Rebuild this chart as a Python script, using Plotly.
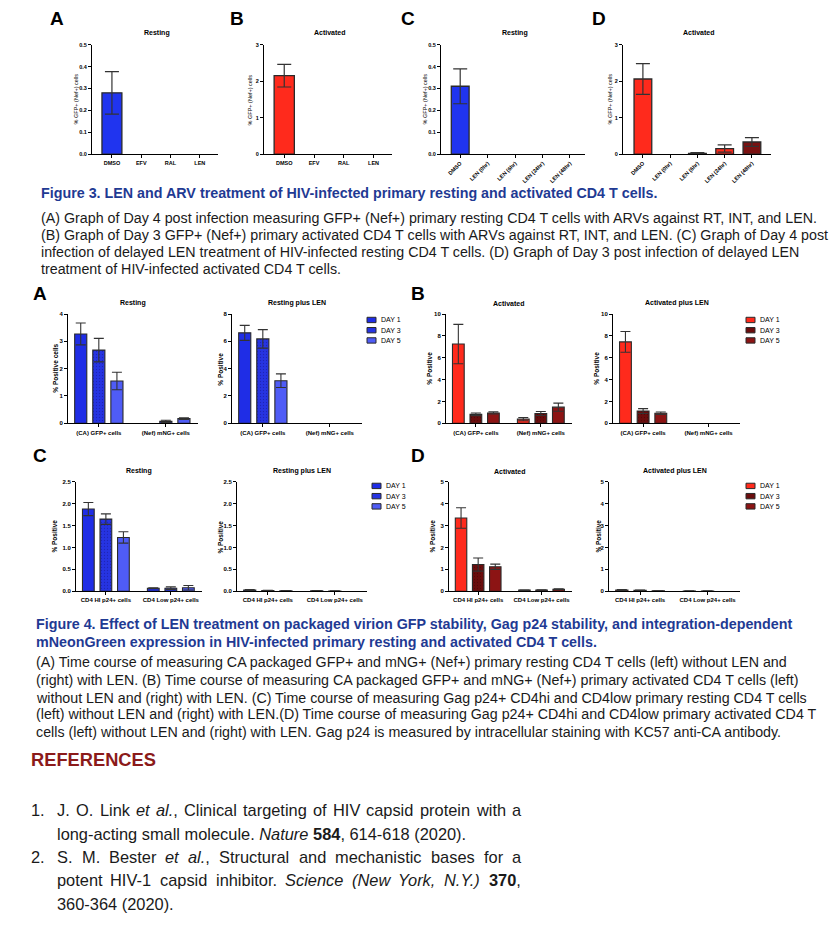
import re
import plotly.graph_objects as go

W, H = 838, 944

# ---------------------------------------------------------------- data
fig3_arv_cats = ["DMSO", "EFV", "RAL", "LEN"]
fig3a_resting = [0.28, 0, 0, 0]
fig3a_resting_err = [0.097, 0, 0, 0]
fig3b_activated = [2.15, 0, 0, 0]
fig3b_activated_err = [0.31, 0, 0, 0]

fig3_delay_cats = ["DMSO", "LEN (0hr)", "LEN (6hr)", "LEN (24hr)", "LEN (48hr)"]
fig3c_resting = [0.31, 0, 0, 0, 0]
fig3c_resting_err = [0.08, 0, 0, 0, 0]
fig3d_activated = [2.06, 0, 0.02, 0.15, 0.33]
fig3d_activated_err = [0.42, 0, 0.02, 0.10, 0.12]

days = ["DAY 1", "DAY 3", "DAY 5"]
fig4ab_cats = ["(CA) GFP+ cells", "(Nef) mNG+ cells"]
fig4cd_cats = ["CD4 HI p24+ cells", "CD4 Low p24+ cells"]

# rows = DAY 1, DAY 3, DAY 5 ; columns = categories
fig4a_resting = [[3.27, 0], [2.68, 0.07], [1.55, 0.17]]
fig4a_resting_err = [[0.40, 0], [0.43, 0.04], [0.32, 0.03]]
fig4a_resting_len = [[6.62, 0], [6.18, 0], [3.12, 0]]
fig4a_resting_len_err = [[0.55, 0], [0.68, 0], [0.50, 0]]
fig4b_activated = [[7.25, 0.38], [0.82, 0.90], [0.95, 1.48]]
fig4b_activated_err = [[1.80, 0.15], [0.12, 0.18], [0.10, 0.37]]
fig4b_activated_len = [[7.45, 0], [1.12, 0], [0.92, 0]]
fig4b_activated_len_err = [[0.95, 0], [0.22, 0], [0.12, 0]]
fig4c_resting = [[1.88, 0.07], [1.65, 0.07], [1.23, 0.08]]
fig4c_resting_err = [[0.15, 0.01], [0.12, 0.03], [0.13, 0.05]]
fig4c_resting_len = [[0.03, 0.01], [0.015, 0.005], [0.01, 0]]
fig4c_resting_len_err = [[0.01, 0.005], [0.005, 0.003], [0.003, 0]]
fig4d_activated = [[3.35, 0.05], [1.22, 0.06], [1.12, 0.09]]
fig4d_activated_err = [[0.47, 0.01], [0.30, 0.01], [0.12, 0.02]]
fig4d_activated_len = [[0.06, 0.01], [0.04, 0.01], [0.02, 0]]
fig4d_activated_len_err = [[0.02, 0.005], [0.01, 0.005], [0.005, 0]]

fig3_title = "Figure 3. LEN and ARV treatment of HIV-infected primary resting and activated CD4 T cells."
fig3_caption = [
    "(A) Graph of Day 4 post infection measuring GFP+ (Nef+) primary resting CD4 T cells with ARVs against RT, INT, and LEN.",
    "(B) Graph of Day 3 GFP+ (Nef+) primary activated CD4 T cells with ARVs against RT, INT, and LEN. (C) Graph of Day 4 post",
    "infection of delayed LEN treatment of HIV-infected resting CD4 T cells. (D) Graph of Day 3 post infection of delayed LEN",
    "treatment of HIV-infected activated CD4 T cells.",
]
fig4_title = [
    "Figure 4. Effect of LEN treatment on packaged virion GFP stability, Gag p24 stability, and integration-dependent",
    "mNeonGreen expression in HIV-infected primary resting and activated CD4 T cells.",
]
fig4_caption = [
    "(A) Time course of measuring CA packaged GFP+ and mNG+ (Nef+) primary resting CD4 T cells (left) without LEN and",
    "(right) with LEN. (B) Time course of measuring CA packaged GFP+ and mNG+ (Nef+) primary activated CD4 T cells (left)",
    "without LEN and (right) with LEN. (C) Time course of measuring Gag p24+ CD4hi and CD4low primary resting CD4 T cells",
    "(left) without LEN and (right) with LEN.(D) Time course of measuring Gag p24+ CD4hi and CD4low primary activated CD4 T",
    "cells (left) without LEN and (right) with LEN. Gag p24 is measured by intracellular staining with KC57 anti-CA antibody.",
]
references_head = "REFERENCES"
references = [
    ("1.", "J. O. Link <i>et al.</i>, Clinical targeting of HIV capsid protein with a", True),
    ("", "long-acting small molecule. <i>Nature</i> <b>584</b>, 614-618 (2020).", False),
    ("2.", "S. M. Bester <i>et al.</i>, Structural and mechanistic bases for a", True),
    ("", "potent HIV-1 capsid inhibitor. <i>Science (New York, N.Y.)</i> <b>370</b>,", True),
    ("", "360-364 (2020).", False),
]

# ---------------------------------------------------------------- style
FONT = "Liberation Sans, Arial, sans-serif"
BLUE = "#2034ef"
RED = "#ff2a1c"
DARKRED = "#7a1111"
blue_days = ["#1f2de6", "#2634e2", "#4f5cf6"]
red_days = ["#ff2a1c", "#6a0d0d", "#8c1414"]
OUTLINE = "#2a2a2a"
ERRC = "#333333"
CAPTION_BLUE = "#1f3a93"
TEXT = "#1a1a1a"


def fx(px):
    return px / W


def fy(py):
    return 1 - py / H


def shown(seq):
    # values of 0 are not drawn (GraphPad draws nothing for them)
    return [v if v else None for v in seq]


fig = go.Figure()
annotations = []
shapes = []


def ann(text, x, y, size, color="black", bold=False, family=FONT, xanchor="center",
        yanchor="middle", angle=0):
    annotations.append(dict(
        text=text, x=fx(x), y=fy(y), xref="paper", yref="paper", showarrow=False,
        xanchor=xanchor, yanchor=yanchor, textangle=angle, borderpad=0,
        font=dict(family=family, size=size, color=color, weight="bold" if bold else "normal"),
    ))


def axis_pair(n, x0, x1, yt, yb, xrange, ymax, ytickvals, yfmt, tickangle, xtsize, ytsize):
    sx = "" if n == 1 else str(n)
    fig.layout["xaxis" + sx] = dict(
        domain=[fx(x0), fx(x1)], anchor="y" + sx, range=xrange, type="category",
        showline=True, linecolor="black", linewidth=1, ticks="outside", ticklen=3,
        tickwidth=1, tickcolor="black", showgrid=False, zeroline=False,
        tickangle=tickangle, fixedrange=True,
        tickfont=dict(family=FONT, size=xtsize, color="black", weight="bold"),
    )
    fig.layout["yaxis" + sx] = dict(
        domain=[fy(yb), fy(yt)], anchor="x" + sx, range=[0, ymax],
        showline=True, linecolor="black", linewidth=1, ticks="outside", ticklen=3,
        tickwidth=1, tickcolor="black", showgrid=False, zeroline=False,
        tickvals=ytickvals, tickformat=yfmt, fixedrange=True,
        tickfont=dict(family=FONT, size=ytsize, color="black", weight="bold"),
    )
    return "x" + sx, "y" + sx


def fig3_panel(n, geom, cats, vals, errs, colors, bw, xrange, ymax, ytv, yfmt, angle,
               title, letter, letter_x, ytitle_x):
    x0, x1 = geom
    xa, ya = axis_pair(n, x0, x1, 42, 152, xrange, ymax, ytv, yfmt, angle, 5.5, 5.5)
    fig.add_trace(go.Bar(
        x=cats, y=shown(vals), width=bw, xaxis=xa, yaxis=ya, showlegend=False,
        marker=dict(color=colors, line=dict(color=OUTLINE, width=1.3)),
        error_y=dict(type="data", array=errs, visible=True, color=ERRC, thickness=1.2, width=7),
    ))
    ann(title, (x0 + x1) / 2 + 2, 30, 7, bold=True)
    ann(letter, letter_x, 16, 19, bold=True)
    ann("% GFP+ (Nef+) cells", ytitle_x, 97, 5.5, angle=-90)


fig3_panel(1, (92, 218), fig3_arv_cats, fig3a_resting, fig3a_resting_err, BLUE, 0.68,
           [-0.68, 3.62], 0.5, [0, 0.1, 0.2, 0.3, 0.4, 0.5], ".1f", 0, "Resting", "A", 57, 76)
fig3_panel(2, (264, 392), fig3_arv_cats, fig3b_activated, fig3b_activated_err, RED, 0.68,
           [-0.68, 3.62], 3, [0, 1, 2, 3], "d", 0, "Activated", "B", 237, 250)
fig3_panel(3, (441, 585), fig3_delay_cats, fig3c_resting, fig3c_resting_err, BLUE, 0.65,
           [-0.7, 4.55], 0.5, [0, 0.1, 0.2, 0.3, 0.4, 0.5], ".1f", -45, "Resting", "C", 408, 425)
fig3_panel(4, (623, 771), fig3_delay_cats, fig3d_activated, fig3d_activated_err,
           [RED, RED, RED, RED, DARKRED], 0.65,
           [-0.73, 4.7], 3, [0, 1, 2, 3], "d", -45, "Activated", "D", 599, 610)


def fig4_panel(n, geom, yt, yb, cats, vals, errs, palette, ymax, ytv, yfmt, title, ytitle,
               ytitle_x):
    x0, x1 = geom
    xa, ya = axis_pair(n, x0, x1, yt, yb, [-0.46, 1.48], ymax, ytv, yfmt, 0, 6, 6)
    for i, day in enumerate(days):
        pattern = None
        if i == 1:
            fg = "#3a0505" if palette is red_days else "#14148a"
            pattern = dict(shape=".", size=3, solidity=0.15, fgcolor=fg)
        fig.add_trace(go.Bar(
            x=cats, y=shown(vals[i]), name=day, xaxis=xa, yaxis=ya, showlegend=False,
            marker=dict(color=palette[i], line=dict(color=OUTLINE, width=1.1), pattern=pattern),
            error_y=dict(type="data", array=errs[i], visible=True, color=ERRC, thickness=1.1, width=5),
        ))
    ann(title, (x0 + x1) / 2, yt - 11, 7, bold=True)
    ann(ytitle, ytitle_x, (yt + yb) / 2, 6.5, bold=True, angle=-90)


def legend(x, y0, palette):
    for i, day in enumerate(days):
        yc = y0 + i * 10.3
        shapes.append(dict(type="rect", xref="paper", yref="paper",
                           x0=fx(x), x1=fx(x + 9), y0=fy(yc + 2.7), y1=fy(yc - 2.7),
                           fillcolor=palette[i], line=dict(color=OUTLINE, width=1)))
        ann(day, x + 13, yc, 7, xanchor="left")


fig4_panel(5, (68, 198), 313, 423, fig4ab_cats, fig4a_resting, fig4a_resting_err, blue_days,
           4, [0, 1, 2, 3, 4], "d", "Resting", "% Positive cells", 56)
fig4_panel(6, (232, 362), 313, 423, fig4ab_cats, fig4a_resting_len, fig4a_resting_len_err,
           blue_days, 8, [0, 2, 4, 6, 8], "d", "Resting plus LEN", "% Positive", 221)
fig4_panel(7, (446, 572), 313, 423, fig4ab_cats, fig4b_activated, fig4b_activated_err, red_days,
           10, [0, 2, 4, 6, 8, 10], "d", "Activated", "% Positive", 430)
fig4_panel(8, (613, 740), 313, 423, fig4ab_cats, fig4b_activated_len, fig4b_activated_len_err,
           red_days, 10, [0, 2, 4, 6, 8, 10], "d", "Activated plus LEN", "% Positive", 597)
fig4_panel(9, (76, 202), 482, 592, fig4cd_cats, fig4c_resting, fig4c_resting_err, blue_days,
           2.5, [0, 0.5, 1, 1.5, 2, 2.5], ".1f", "Resting", "% Positive", 55)
fig4_panel(10, (237, 367), 482, 592, fig4cd_cats, fig4c_resting_len, fig4c_resting_len_err,
           blue_days, 2.5, [0, 0.5, 1, 1.5, 2, 2.5], ".1f", "Resting plus LEN", "% Positive", 221)
fig4_panel(11, (449, 572), 482, 592, fig4cd_cats, fig4d_activated, fig4d_activated_err, red_days,
           5, [0, 1, 2, 3, 4, 5], "d", "Activated", "% Positive", 433)
fig4_panel(12, (609, 740), 482, 592, fig4cd_cats, fig4d_activated_len, fig4d_activated_len_err,
           red_days, 5, [0, 1, 2, 3, 4, 5], "d", "Activated plus LEN", "% Positive", 599)

legend(367, 319, blue_days)
legend(746, 319, red_days)
legend(372, 486, blue_days)
legend(746, 486, red_days)

for letter, x, y in [("A", 40, 292), ("B", 418, 292), ("C", 40, 455), ("D", 418, 455)]:
    ann(letter, x, y, 19, bold=True)

# ---------------------------------------------------------------- captions
ann(fig3_title, 40, 191, 14.3, color=CAPTION_BLUE, bold=True, xanchor="left")
for line, y in zip(fig3_caption, [216, 233.5, 251, 268]):
    ann(line, 40, y, 14.28, color=TEXT, xanchor="left")
for line, y in zip(fig4_title, [625, 643]):
    ann(line, 35, y, 14.3, color=CAPTION_BLUE, bold=True, xanchor="left")
for line, y in zip(fig4_caption, [663, 681, 699, 716, 734]):
    ann(line, 35, y, 14.25, color=TEXT, xanchor="left")

ann(references_head, 30, 761, 18.3, color="#8b1a1a", bold=True, xanchor="left")

HELV = {' ': 278, '.': 278, ',': 278, '-': 333, '(': 333, ')': 333,
        'J': 500, 'O': 778, 'L': 556, 'H': 722, 'I': 278, 'V': 667, 'C': 722, 'S': 667,
        'M': 833, 'B': 667, 'N': 722, 'Y': 667,
        'a': 556, 'b': 556, 'c': 500, 'd': 556, 'e': 556, 'f': 278, 'g': 556, 'h': 556,
        'i': 222, 'k': 500, 'l': 222, 'm': 833, 'n': 556, 'o': 556, 'p': 556, 'r': 333,
        's': 500, 't': 278, 'u': 556, 'v': 500, 'w': 722, 'y': 500}


def text_w(s, fs):
    return sum(HELV.get(c, 556) for c in s) * fs / 1000.0


def tokens(html):
    out, open_tags = [], []
    for tok in html.split(" "):
        prefix = "".join("<%s>" % t for t in open_tags)
        for m in re.finditer(r"<(/?)(\w)>", tok):
            if m.group(1):
                open_tags.remove(m.group(2))
            else:
                open_tags.append(m.group(2))
        suffix = "".join("</%s>" % t for t in reversed(open_tags))
        out.append((prefix + tok + suffix, re.sub(r"<[^>]+>", "", tok)))
    return out


REF_FS = 16.4
REF_X0, REF_X1 = 56, 520
for (num, line, justify), y in zip(references, [812, 836, 859.5, 883, 907]):
    if num:
        ann(num, 30, y, REF_FS, color=TEXT, xanchor="left")
    if justify:
        toks = tokens(line)
        widths = [text_w(p, REF_FS) for _, p in toks]
        gap = (REF_X1 - REF_X0 - sum(widths)) / (len(toks) - 1)
        x = REF_X0
        for (h, _), w in zip(toks, widths):
            ann(h, x, y, REF_FS, color=TEXT, xanchor="left")
            x += w + gap
    else:
        ann(line, REF_X0, y, REF_FS, color=TEXT, xanchor="left")

fig.update_layout(
    width=W, height=H, margin=dict(l=0, r=0, t=0, b=0),
    paper_bgcolor="white", plot_bgcolor="white",
    barmode="group", bargap=0.19, bargroupgap=0.33,
    showlegend=False, annotations=annotations, shapes=shapes,
    font=dict(family=FONT, color="black"),
)

fig.write_html("out.html", config={"displayModeBar": False},
               post_script="document.body.style.margin='0';")
